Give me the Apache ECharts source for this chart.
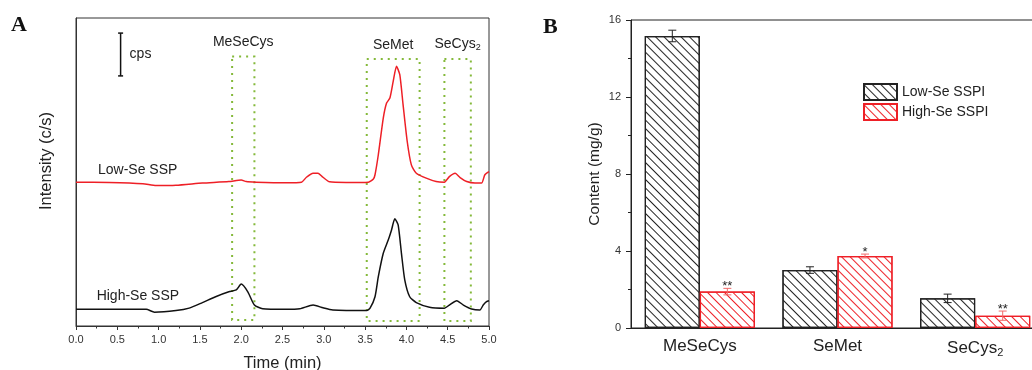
<!DOCTYPE html>
<html><head><meta charset="utf-8">
<script src="https://cdn.jsdelivr.net/npm/echarts@6/dist/echarts.min.js"></script>
<style>html,body{margin:0;padding:0;background:#fff}#c{width:1032px;height:370px}</style>
</head><body><div id="c"></div>
<script>
// ---------- Panel A: chromatograms (time in min, intensity in arbitrary units) ----------
const lowSeTrace = [
  [0.00,46.7],[0.40,46.6],[0.81,46.2],[0.97,45.6],[1.21,45.7],[1.53,46.4],[1.85,46.9],[2.00,47.4],
  [2.06,46.9],[2.18,46.7],[2.54,46.5],[2.73,46.7],[2.79,48.3],[2.87,49.6],[2.93,49.6],[2.99,48.3],
  [3.07,46.8],[3.27,46.6],[3.54,46.7],[3.60,47.7],[3.62,49.1],[3.66,55.6],[3.72,67.5],[3.76,72.4],
  [3.80,74.0],[3.84,79.4],[3.88,84.3],[3.92,81.6],[3.96,71.8],[4.01,59.9],[4.06,52.3],[4.12,49.6],
  [4.24,48.0],[4.36,46.9],[4.46,46.7],[4.52,48.5],[4.59,49.6],[4.65,48.2],[4.73,46.9],[4.83,46.4],
  [4.91,46.4],[4.95,49.1],[5.00,50.1]
];
const highSeTrace = [
  [0.00,5.4],[0.85,5.4],[0.95,4.5],[1.21,5.0],[1.37,5.8],[1.53,7.6],[1.69,9.5],[1.85,11.1],
  [1.94,11.7],[2.00,13.6],[2.08,11.1],[2.16,6.8],[2.26,5.6],[2.54,5.4],[2.71,5.6],[2.87,6.8],
  [2.99,5.9],[3.11,5.2],[3.52,5.0],[3.56,5.8],[3.62,9.5],[3.66,16.0],[3.72,23.6],[3.78,27.9],
  [3.82,31.2],[3.86,34.8],[3.90,32.8],[3.94,23.6],[3.98,15.0],[4.04,9.5],[4.12,7.6],[4.28,6.1],
  [4.46,5.8],[4.52,6.8],[4.61,8.2],[4.69,6.8],[4.79,5.5],[4.89,5.2],[4.93,6.8],[4.97,7.9],[5.00,8.2]
];
const peakWindowNames = ['MeSeCys', 'SeMet', 'SeCys2'];
const peakWindowStart = [1.89, 3.52, 4.46];
const peakWindowEnd   = [2.16, 4.16, 4.78];
const peakWindowLow   = [1.95, 1.6, 1.6];
const peakWindowHigh  = [87.5, 86.7, 86.7];
const traceNames = ['Low-Se SSP', 'High-Se SSP'];
const traceLabelAt = [[0.266, 50.7], [0.25, 9.75]];
const scaleBar = [0.54, 81.2, 95.1]; // time, bottom, top of the cps scale bar

// ---------- Panel B: content bars ----------
const compounds = ['MeSeCys', 'SeMet', 'SeCys2'];
const lowSeContent = [15.17, 3.01, 1.54];
const lowSeErr     = [0.30, 0.17, 0.22];
const highSeContent = [1.89, 3.74, 0.64];
const highSeErr     = [0.17, 0.10, 0.24];
const highSeSig     = ['**', '*', '**'];
const contentTicks = { min: 0, max: 16, interval: 4 };

const FONT = 'Liberation Sans, Arial, sans-serif';
const RED = '#ee1f26';
const GREEN = '#84b93a';

const sub = (s) => s.replace(/^(.*?)(\d)$/, '{n|$1}{s|$2}');

const chart = echarts.init(document.getElementById('c'), null, { renderer: 'canvas' });

function errorBarRenderer(sign, color, sigs) {
  return function (params, api) {
    const ci = api.value(0), v = api.value(1), e = api.value(2);
    const band = api.size([1, 0])[0];
    const off = sign * band * 0.2;
    const t = api.coord([ci, v + e]);
    const b = api.coord([ci, v - e]);
    const x = t[0] + off;
    const cap = 4;
    const children = [
      { type: 'line', shape: { x1: x, y1: t[1], x2: x, y2: b[1] }, style: { stroke: color, lineWidth: 1 } },
      { type: 'line', shape: { x1: x - cap, y1: t[1], x2: x + cap, y2: t[1] }, style: { stroke: color, lineWidth: 1 } },
      { type: 'line', shape: { x1: x - cap, y1: b[1], x2: x + cap, y2: b[1] }, style: { stroke: color, lineWidth: 1 } }
    ];
    if (sigs) {
      children.push({ type: 'text', x: x, y: t[1] - 2,
        style: { text: sigs[params.dataIndex], fontSize: 13, fontFamily: FONT, fill: '#222', align: 'center', verticalAlign: 'middle' } });
    }
    return { type: 'group', children };
  };
}

const hatch = (color) => ({
  symbol: 'rect', symbolSize: 1, color: color,
  dashArrayX: [1, 0], dashArrayY: [1, 4.2], rotation: Math.PI / 4
});

const option = {
  animation: false,
  backgroundColor: '#fff',
  title: [
    { text: 'A', left: 6, top: 9, textStyle: { fontFamily: 'Liberation Serif, serif', fontWeight: 'bold', fontSize: 22, color: '#111' } },
    { text: 'B', left: 538, top: 11, textStyle: { fontFamily: 'Liberation Serif, serif', fontWeight: 'bold', fontSize: 22, color: '#111' } }
  ],
  legend: {
    data: ['Low-Se SSPI', 'High-Se SSPI'],
    orient: 'vertical', left: 863, top: 83, itemGap: 2, icon: 'rect',
    itemWidth: 33, itemHeight: 16, padding: 0,
    textStyle: { fontSize: 14, fontFamily: FONT, color: '#222' }
  },
  grid: [
    { left: 76, width: 413, top: 18, bottom: 44, outerBoundsMode: 'none', show: true, borderColor: '#333', borderWidth: 1, backgroundColor: 'transparent' },
    { left: 631, width: 413, top: 20, bottom: 42, outerBoundsMode: 'none', show: true, borderColor: '#222', borderWidth: 1, backgroundColor: 'transparent' }
  ],
  xAxis: [
    {
      gridIndex: 0, type: 'value', min: 0, max: 5, interval: 0.5,
      name: 'Time (min)', nameLocation: 'middle', nameGap: 29,
      nameTextStyle: { fontSize: 16.5, fontFamily: FONT, color: '#222' },
      axisLine: { lineStyle: { color: '#333', width: 1 } },
      axisTick: { inside: false, length: 4, lineStyle: { color: '#333' } },
      minorTick: { show: true, splitNumber: 2, length: 2.5, lineStyle: { color: '#333' } },
      splitLine: { show: false },
      axisLabel: { fontSize: 11, fontFamily: FONT, color: '#333', margin: 8, formatter: (v) => v.toFixed(1) }
    },
    {
      gridIndex: 1, type: 'category', data: compounds,
      axisLine: { lineStyle: { color: '#222', width: 1 } },
      axisTick: { inside: false, length: 5, lineStyle: { color: '#222' } },
      axisLabel: {
        interval: 0, hideOverlap: false,
        margin: 10, fontSize: 17, fontFamily: FONT, color: '#222',
        formatter: (v) => sub(v),
        rich: {
          n: { fontSize: 17, fontFamily: FONT, color: '#222' },
          s: { fontSize: 11, fontFamily: FONT, color: '#222', padding: [9, 0, 0, 0] }
        }
      }
    }
  ],
  yAxis: [
    {
      gridIndex: 0, type: 'value', min: 0, max: 100,
      name: 'Intensity (c/s)', nameLocation: 'middle', nameGap: 21,
      nameTextStyle: { fontSize: 16.5, fontFamily: FONT, color: '#222', padding: [0, 0, 0, 22] },
      axisLine: { show: true, lineStyle: { color: '#333', width: 1 } },
      axisTick: { show: false }, axisLabel: { show: false }, splitLine: { show: false }
    },
    {
      gridIndex: 1, type: 'value', min: contentTicks.min, max: contentTicks.max, interval: contentTicks.interval,
      name: 'Content (mg/g)', nameLocation: 'middle', nameGap: 28,
      nameTextStyle: { fontSize: 15.5, fontFamily: FONT, color: '#222' },
      axisLine: { show: true, lineStyle: { color: '#222', width: 1 } },
      axisTick: { show: true, inside: false, length: 5, lineStyle: { color: '#222' } },
      minorTick: { show: true, splitNumber: 2, length: 3, lineStyle: { color: '#222' } },
      splitLine: { show: false },
      axisLabel: { fontSize: 11, fontFamily: FONT, color: '#333', margin: 10 }
    }
  ],
  series: [
    {
      name: traceNames[0], type: 'line', xAxisIndex: 0, yAxisIndex: 0,
      data: lowSeTrace, showSymbol: false, smooth: 0.2,
      lineStyle: { color: RED, width: 1.5 }, itemStyle: { color: RED },
      markPoint: {
        symbol: 'circle', symbolSize: 0,
        label: { show: true, position: 'right', distance: 0, fontSize: 14, fontFamily: FONT, color: '#222', formatter: (p) => p.name },
        data: [{ name: traceNames[0], coord: traceLabelAt[0] }]
      },
      markArea: {
        silent: true,
        itemStyle: { color: 'transparent', borderColor: GREEN, borderWidth: 2, borderType: [2, 5] },
        label: {
          show: true, position: 'top', distance: 6, fontSize: 14, fontFamily: FONT, color: '#222',
          formatter: (p) => sub(p.name),
          rich: {
            n: { fontSize: 14, fontFamily: FONT, color: '#222' },
            s: { fontSize: 9, fontFamily: FONT, color: '#222', padding: [7, 0, 0, 0] }
          }
        },
        data: peakWindowNames.map((n, i) => [
          { name: n, coord: [peakWindowStart[i], peakWindowHigh[i]] },
          { coord: [peakWindowEnd[i], peakWindowLow[i]] }
        ])
      }
    },
    {
      name: traceNames[1], type: 'line', xAxisIndex: 0, yAxisIndex: 0,
      data: highSeTrace, showSymbol: false, smooth: 0.2,
      lineStyle: { color: '#111', width: 1.5 }, itemStyle: { color: '#111' },
      markPoint: {
        symbol: 'circle', symbolSize: 0,
        label: { show: true, position: 'right', distance: 0, fontSize: 14, fontFamily: FONT, color: '#222', formatter: (p) => p.name },
        data: [{ name: traceNames[1], coord: traceLabelAt[1] }]
      }
    },
    {
      name: 'scale', type: 'custom', xAxisIndex: 0, yAxisIndex: 0, silent: true,
      encode: { x: 0, y: [1, 2] },
      data: [scaleBar],
      renderItem: (params, api) => {
        const a = api.coord([api.value(0), api.value(1)]);
        const b = api.coord([api.value(0), api.value(2)]);
        const st = { stroke: '#111', lineWidth: 1.5 };
        return { type: 'group', children: [
          { type: 'line', shape: { x1: a[0], y1: a[1], x2: b[0], y2: b[1] }, style: st },
          { type: 'line', shape: { x1: a[0] - 2.5, y1: a[1], x2: a[0] + 2.5, y2: a[1] }, style: st },
          { type: 'line', shape: { x1: b[0] - 2.5, y1: b[1], x2: b[0] + 2.5, y2: b[1] }, style: st },
          { type: 'text', x: a[0] + 9, y: (a[1] + b[1]) / 2, style: { text: 'cps', fontSize: 14, fontFamily: FONT, fill: '#222', verticalAlign: 'middle' } }
        ] };
      }
    },
    {
      name: 'Low-Se SSPI', type: 'bar', xAxisIndex: 1, yAxisIndex: 1,
      data: lowSeContent, barGap: '0%', barCategoryGap: '20%',
      itemStyle: { color: '#fff', borderColor: '#222', borderWidth: 1.2, decal: hatch('#222') }
    },
    {
      name: 'High-Se SSPI', type: 'bar', xAxisIndex: 1, yAxisIndex: 1,
      data: highSeContent, barGap: '0%', barCategoryGap: '20%',
      itemStyle: { color: '#fff', borderColor: RED, borderWidth: 1.2, decal: hatch(RED) }
    },
    {
      name: 'lowErr', type: 'custom', xAxisIndex: 1, yAxisIndex: 1, silent: true, z: 5,
      encode: { x: 0, y: 1 },
      data: lowSeContent.map((v, i) => [i, v, lowSeErr[i]]),
      renderItem: errorBarRenderer(-1, '#222', null)
    },
    {
      name: 'highErr', type: 'custom', xAxisIndex: 1, yAxisIndex: 1, silent: true, z: 5,
      encode: { x: 0, y: 1 },
      data: highSeContent.map((v, i) => [i, v, highSeErr[i]]),
      renderItem: errorBarRenderer(1, '#f06a6a', highSeSig)
    }
  ]
};
chart.setOption(option);
</script>
</body></html>
